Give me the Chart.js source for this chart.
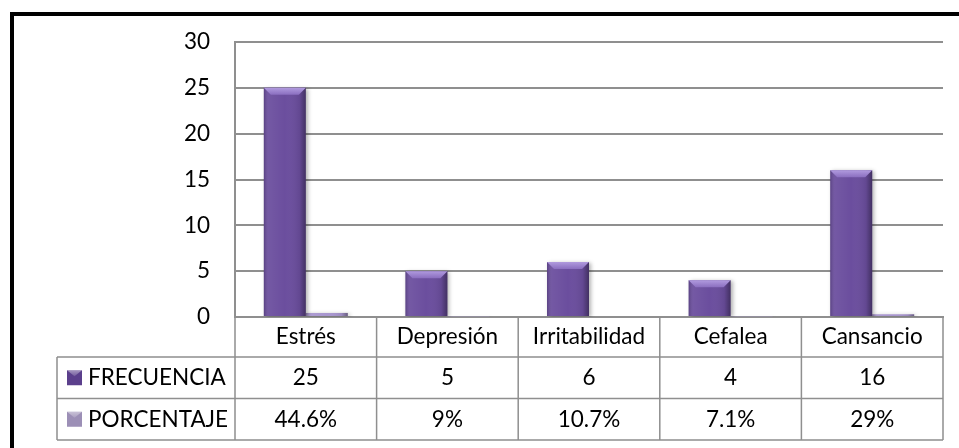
<!DOCTYPE html>
<html>
<head>
<meta charset="utf-8">
<script src="https://cdn.jsdelivr.net/npm/chart.js@4"></script>
<style>
    html, body { margin: 0; padding: 0; background: #ffffff; overflow: hidden; }
    #frame {
        position: absolute;
        left: 10px;
        top: 12px;
        width: 1000px;
        height: 500px;
        border-left: 4px solid #000000;
        border-top: 4px solid #000000;
    }
    #chart { position: absolute; left: 0; top: 0; }
</style>
</head>
<body>
<div id="frame"></div>
<canvas id="chart" width="959" height="448"></canvas>
<script>
const categories = ['Estrés', 'Depresión', 'Irritabilidad', 'Cefalea', 'Cansancio'];
const frecuencia = [25, 5, 6, 4, 16];
const porcentaje = [0.446, 0.09, 0.107, 0.071, 0.29];
const yMin = 0;
const yMax = 30;
const yStep = 5;

const FONT = 'Lato';
const FONT_SIZE = 22.5;
const GRID = '#8f8f8f';
const TEXT = '#000000';

const percentLabel = (value) => `${Number((value * 100).toFixed(1))}%`;

const seriesRows = [
    { label: 'FRECUENCIA', values: frecuencia, format: (v) => String(v), key: '#5b3f8c' },
    { label: 'PORCENTAJE', values: porcentaje, format: percentLabel, key: '#9c8fb6' }
];

// Darkened sides and a light bevel on top of each bar
const barShading = {
    id: 'barShading',
    beforeDatasetDraw(chart) {
        const ctx = chart.ctx;
        ctx.save();
        ctx.shadowColor = 'rgba(0, 0, 0, 0.3)';
        ctx.shadowBlur = 4;
        ctx.shadowOffsetX = 2;
        ctx.shadowOffsetY = 1;
    },
    afterDatasetDraw(chart) {
        chart.ctx.restore();
    },
    afterDatasetsDraw(chart) {
        const ctx = chart.ctx;
        chart.data.datasets.forEach((dataset, di) => {
            const meta = chart.getDatasetMeta(di);
            meta.data.forEach((bar) => {
                const left = bar.x - bar.width / 2;
                const right = bar.x + bar.width / 2;
                const top = bar.y;
                const h = bar.base - bar.y;
                if (h < 1) return;

                const side = ctx.createLinearGradient(left, 0, right, 0);
                side.addColorStop(0, 'rgba(0, 0, 0, 0.18)');
                side.addColorStop(0.12, 'rgba(255, 255, 255, 0.06)');
                side.addColorStop(0.5, 'rgba(255, 255, 255, 0)');
                side.addColorStop(0.85, 'rgba(0, 0, 0, 0.08)');
                side.addColorStop(1, 'rgba(0, 0, 0, 0.38)');
                ctx.fillStyle = side;
                ctx.fillRect(left, top, right - left, h);

                const b = Math.min(7, h / 2);
                if (b < 2) return;
                const bevel = ctx.createLinearGradient(0, top, 0, top + b);
                bevel.addColorStop(0, '#b09ade');
                bevel.addColorStop(1, '#8a6ebf');
                ctx.fillStyle = bevel;
                ctx.beginPath();
                ctx.moveTo(left, top);
                ctx.lineTo(right, top);
                ctx.lineTo(right - b, top + b);
                ctx.lineTo(left + b, top + b);
                ctx.closePath();
                ctx.fill();
            });
        });
    }
};

// Data table under the category axis, with legend keys in the first column
const dataTable = {
    id: 'dataTable',
    afterDraw(chart) {
        const ctx = chart.ctx;
        const x = chart.scales.x;
        const area = chart.chartArea;
        const tableLeft = 57;
        const rowTop = x.bottom;
        const rowH = 41.5;
        const tableBottom = rowTop + rowH * seriesRows.length;

        const edges = [];
        for (let i = 0; i <= categories.length; i++) {
            edges.push(x.getPixelForValue(i - 0.5));
        }

        ctx.save();
        ctx.strokeStyle = GRID;
        ctx.lineWidth = 1.5;
        ctx.beginPath();
        edges.forEach((ex) => {
            ctx.moveTo(ex, area.bottom);
            ctx.lineTo(ex, tableBottom);
        });
        ctx.moveTo(tableLeft, rowTop);
        ctx.lineTo(tableLeft, tableBottom);
        for (let r = 0; r <= seriesRows.length; r++) {
            const y = rowTop + r * rowH;
            ctx.moveTo(tableLeft, y);
            ctx.lineTo(edges[edges.length - 1], y);
        }
        ctx.stroke();

        ctx.font = `${FONT_SIZE}px ${FONT}`;
        ctx.textBaseline = 'middle';
        seriesRows.forEach((row, r) => {
            const cy = rowTop + r * rowH + rowH / 2;

            const k = 15;
            const kx = 67;
            const ky = cy - k / 2;
            ctx.fillStyle = row.key;
            ctx.fillRect(kx, ky, k, k);
            const shine = ctx.createLinearGradient(0, ky, 0, ky + 6);
            shine.addColorStop(0, 'rgba(255, 255, 255, 0.45)');
            shine.addColorStop(1, 'rgba(255, 255, 255, 0.15)');
            ctx.fillStyle = shine;
            ctx.beginPath();
            ctx.moveTo(kx, ky);
            ctx.lineTo(kx + k, ky);
            ctx.lineTo(kx + k / 2, ky + 6);
            ctx.closePath();
            ctx.fill();

            ctx.fillStyle = TEXT;
            ctx.textAlign = 'left';
            ctx.fillText(row.label, 88, cy);

            ctx.textAlign = 'center';
            row.values.forEach((v, i) => {
                ctx.fillText(row.format(v), x.getPixelForValue(i), cy);
            });
        });
        ctx.restore();
    }
};

const ctx = document.getElementById('chart').getContext('2d');
new Chart(ctx, {
    type: 'bar',
    data: {
        labels: categories,
        datasets: [
            {
                label: 'FRECUENCIA',
                data: frecuencia,
                backgroundColor: '#6b4e9e'
            },
            {
                label: 'PORCENTAJE',
                data: porcentaje,
                backgroundColor: '#a896cf'
            }
        ]
    },
    options: {
        responsive: false,
        animation: false,
        devicePixelRatio: 1,
        datasets: {
            bar: {
                categoryPercentage: 0.593,
                barPercentage: 1
            }
        },
        layout: {
            padding: { top: 42, right: 16, bottom: 91, left: 0 }
        },
        plugins: {
            legend: { display: false },
            tooltip: { enabled: false }
        },
        scales: {
            x: {
                grid: { display: false, drawTicks: false },
                border: { display: true, color: GRID, width: 2 },
                ticks: {
                    color: TEXT,
                    padding: 6,
                    maxRotation: 0,
                    font: { family: FONT, size: FONT_SIZE }
                },
                afterFit: (scale) => { scale.height = 40; }
            },
            y: {
                min: yMin,
                max: yMax,
                grid: { color: GRID, lineWidth: 2, drawTicks: false },
                border: { display: true, color: GRID, width: 2 },
                ticks: {
                    stepSize: yStep,
                    color: TEXT,
                    padding: 25,
                    font: { family: FONT, size: FONT_SIZE }
                },
                afterFit: (scale) => { scale.width = 235; }
            }
        }
    },
    plugins: [barShading, dataTable]
});
</script>
</body>
</html>
